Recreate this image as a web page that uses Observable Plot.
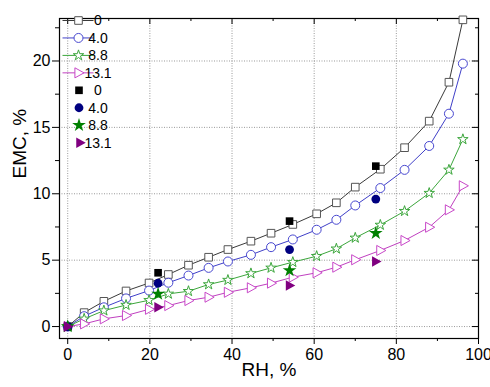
<!DOCTYPE html>
<html>
<head>
<meta charset="utf-8">
<script src="https://cdn.jsdelivr.net/npm/d3@7"></script>
<script src="https://cdn.jsdelivr.net/npm/@observablehq/plot@0.6"></script>
<style>
  html, body { margin: 0; padding: 0; background: #fff; }
  #chart { position: relative; width: 490px; height: 387px; }
</style>
</head>
<body>
<div id="chart"></div>
<script>
// RH values (%) shared by the model curves
const rh = [0, 4, 8.8, 14.2, 19.8, 24.5, 29.4, 34.3, 39, 44.6, 49.5, 54.8, 60.6, 65.4, 70, 76.1, 82, 88, 92.8, 96.2];
const emc0   = [0, 1.05, 1.9, 2.68, 3.28, 3.92, 4.62, 5.22, 5.8, 6.43, 7.03, 7.69, 8.49, 9.32, 10.5, 11.85, 13.47, 15.47, 18.4, 23.1];
const emc40  = [0, 0.78, 1.45, 2.12, 2.71, 3.3, 3.84, 4.42, 4.9, 5.4, 5.98, 6.56, 7.29, 8.04, 9.12, 10.43, 11.8, 13.6, 16.03, 19.8];
const emc88  = [0, 0.58, 1.2, 1.62, 1.98, 2.46, 2.66, 3.17, 3.5, 4.0, 4.42, 4.85, 5.3, 5.86, 6.68, 7.65, 8.69, 10.05, 11.8, 14.1];
const emc131 = [0, 0.2, 0.58, 0.83, 1.3, 1.58, 1.96, 2.21, 2.58, 2.92, 3.27, 3.72, 4.05, 4.47, 5.03, 5.73, 6.48, 7.48, 8.79, 10.6];

// experimental points
const rhExp = [0, 22, 54, 75];
const exp0   = [0, 4.05, 7.94, 12.08];
const exp40  = [0, 3.26, 5.8, 9.6];
const exp88  = [0, 2.46, 4.22, 7.03];
const exp131 = [0, 1.45, 3.09, 4.9];

const seriesLabels = ["0", "4.0", "8.8", "13.1"];
const xMajor = [0, 20, 40, 60, 80, 100];
const xMinor = [10, 30, 50, 70, 90];
const yMajor = [0, 5, 10, 15, 20];
const yMinor = [2.5, 7.5, 12.5, 17.5, 22.5];

const triRight = {
  draw(ctx, size) {
    const r = Math.sqrt(size / Math.PI);
    ctx.moveTo(r * 1.15, 0);
    ctx.lineTo(-r * 0.75, -r * 1.05);
    ctx.lineTo(-r * 0.75, r * 1.05);
    ctx.closePath();
  }
};

const lineColors = ["#3a3a3a", "#4040c8", "#3ca63c", "#c040c0"];
const markColors = ["#555555", "#4848d0", "#3ca63c", "#c848c8"];
const openSymbols = ["square", "circle", "star", triRight];
const openR = [4.3, 4.5, 3.3, 4.8];
const fillColors = ["#000000", "#000080", "#008000", "#800080"];
const fillR = [4.3, 4.4, 4.3, 5.0];
const model = [emc0, emc40, emc88, emc131];
const exper = [exp0, exp40, exp88, exp131];

const modelData = model.map((ys, i) => rh.map((x, j) => ({x, y: ys[j], s: i})));
const expData = exper.map((ys, i) => rhExp.map((x, j) => ({x, y: ys[j], s: i})));

const W = 490, H = 387, ML = 59, MR = 12, MT = 18, MB = 49;
const innerW = W - ML - MR, innerH = H - MT - MB;

const marks = [
  Plot.gridX(xMajor, {stroke: "#808080", strokeOpacity: 1, strokeDasharray: "1,1.5", strokeWidth: 0.8}),
  Plot.gridY(yMajor, {stroke: "#808080", strokeOpacity: 1, strokeDasharray: "1,1.5", strokeWidth: 0.8}),
  Plot.axisX({ticks: xMajor, tickSize: 6, tickPadding: 4, fontSize: 16, label: null}),
  Plot.axisX({ticks: xMinor, tickSize: 3, text: null, label: null}),
  Plot.axisY({ticks: yMajor, tickSize: 7, tickPadding: 2, fontSize: 16, label: null}),
  Plot.axisY({ticks: yMinor, tickSize: 4, text: null, label: null}),
  // inward ticks on top and right
  Plot.tickX(xMajor, {x: d => d, insetBottom: innerH - 6, stroke: "#000"}),
  Plot.tickX(xMinor, {x: d => d, insetBottom: innerH - 3, stroke: "#000"}),
  Plot.tickY(yMajor, {y: d => d, insetLeft: innerW - 6, stroke: "#000"}),
  Plot.tickY(yMinor, {y: d => d, insetLeft: innerW - 3, stroke: "#000"}),
  Plot.frame({stroke: "#000", strokeWidth: 1.2}),
  Plot.text(["RH, %"], {text: d => d, frameAnchor: "bottom", dy: 37, fontSize: 19}),
  Plot.text(["EMC, %"], {text: d => d, frameAnchor: "left", dx: -40, rotate: -90, fontSize: 19})
];

modelData.forEach((d, i) => {
  marks.push(Plot.line(d, {x: "x", y: "y", stroke: lineColors[i], strokeWidth: 1}));
});
modelData.forEach((d, i) => {
  marks.push(Plot.dot(d, {x: "x", y: "y", symbol: openSymbols[i], r: openR[i], stroke: markColors[i], fill: "#fff", strokeWidth: 1}));
});
expData.forEach((d, i) => {
  marks.push(Plot.dot(d, {x: "x", y: "y", symbol: i === 3 ? triRight : openSymbols[i], r: fillR[i], fill: fillColors[i], stroke: "none"}));
});

const chart = Plot.plot({
  width: W, height: H,
  marginLeft: ML, marginRight: MR, marginTop: MT, marginBottom: MB,
  x: {domain: [-2, 100]},
  y: {domain: [-0.9, 23.2]},
  style: {fontFamily: "'Liberation Sans', Arial, sans-serif", fontSize: "16px", color: "#000", background: "#fff", overflow: "visible"},
  marks
});

// Legend (drawn into the same SVG, inside the top-left corner of the frame)
const svg = d3.select(chart);
const g = svg.append("g").attr("font-family", "'Liberation Sans', Arial, sans-serif").attr("font-size", 14);
const rowY0 = 20.5, rowStep = 17.45;
const symbolFor = (s) => (typeof s === "string" ? ({square: d3.symbolSquare, circle: d3.symbolCircle, star: d3.symbolStar})[s] : s);
for (let i = 0; i < 4; i++) {
  const y = rowY0 + i * rowStep;
  g.append("line").attr("x1", 62.5).attr("x2", 93.5).attr("y1", y).attr("y2", y).attr("stroke", lineColors[i]).attr("stroke-width", 1);
  g.append("path").attr("transform", `translate(78.5,${y})`)
    .attr("d", d3.symbol(symbolFor(openSymbols[i]), openR[i] * openR[i] * Math.PI)())
    .attr("fill", "#fff").attr("stroke", markColors[i]);
  g.append("text").attr("x", 98).attr("y", y).attr("dy", "0.35em").text(seriesLabels[i]);
}
for (let i = 0; i < 4; i++) {
  const y = rowY0 + (i + 4) * rowStep;
  const sym = i === 3 ? triRight : openSymbols[i];
  g.append("path").attr("transform", `translate(${i === 3 ? 80 : 79},${y})`)
    .attr("d", d3.symbol(symbolFor(sym), fillR[i] * fillR[i] * Math.PI)())
    .attr("fill", fillColors[i]);
  g.append("text").attr("x", 98).attr("y", y).attr("dy", "0.35em").text(seriesLabels[i]);
}

document.getElementById("chart").appendChild(chart);
</script>
</body>
</html>
